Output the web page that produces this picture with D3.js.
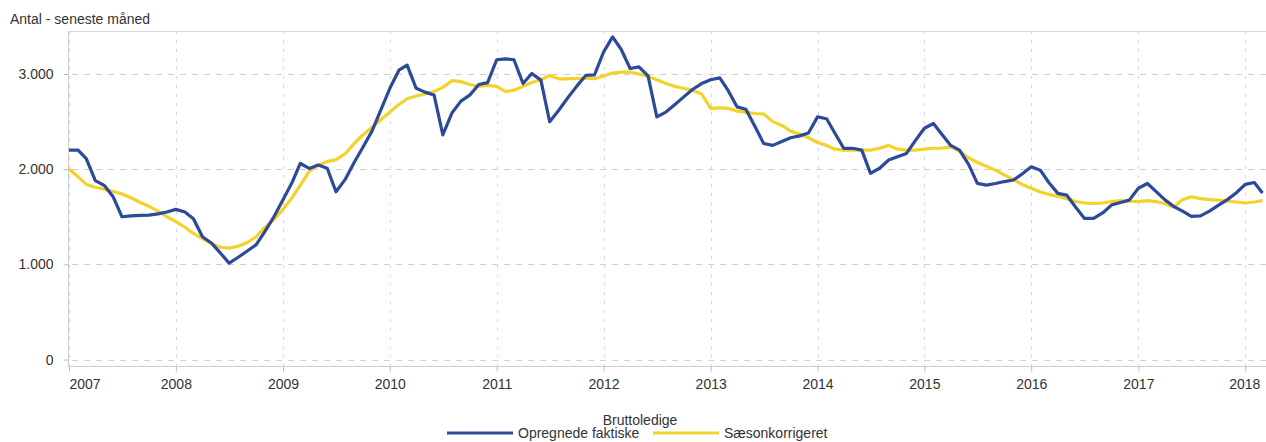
<!DOCTYPE html>
<html>
<head>
<meta charset="utf-8">
<script src="https://cdn.jsdelivr.net/npm/d3@7"></script>
<style>
  body { margin: 0; background: #fff; }
  text { font-family: "Liberation Sans", Arial, sans-serif; fill: #333; }
</style>
</head>
<body>
<svg id="chart"></svg>
<script>
// monthly values, Jan 2007 - Mar 2018
const startYear = 2007;
const faktiske = [
  2200, 2200, 2110, 1880, 1830, 1710, 1500, 1510, 1515, 1518, 1530, 1550,
  1578, 1550, 1480, 1290, 1225, 1120, 1013, 1075, 1140, 1205, 1350, 1500,
  1680, 1860, 2060, 2008, 2043, 2010, 1763, 1890, 2070, 2230, 2400, 2620,
  2850, 3040, 3093, 2850, 2810, 2780, 2360, 2590, 2715, 2778, 2890, 2910,
  3150, 3160, 3150, 2900, 3006, 2936, 2498, 2620, 2750, 2870, 2985, 2990,
  3230, 3390, 3260, 3058, 3075, 2980, 2550, 2600, 2680, 2760, 2840, 2900,
  2940, 2960, 2830, 2655, 2630, 2450, 2270, 2250, 2290, 2330, 2350, 2380,
  2550, 2530, 2380, 2218, 2220, 2200, 1956, 2010, 2096, 2130, 2166, 2300,
  2430, 2480, 2370, 2250, 2200, 2050, 1851, 1833, 1850, 1870, 1886, 1950,
  2025, 1990, 1860, 1746, 1728, 1600, 1483, 1483, 1540, 1623, 1650, 1675,
  1800, 1850, 1770, 1680, 1610, 1560, 1505, 1510, 1560, 1620, 1680, 1750,
  1840, 1860, 1750
];
const saeson = [
  2000, 1920, 1840, 1810, 1790, 1765, 1740, 1700, 1650, 1610, 1560, 1500,
  1450, 1390, 1325, 1270, 1220, 1180, 1170, 1190, 1230, 1290, 1390, 1470,
  1580, 1700, 1830, 1980, 2040, 2080, 2100, 2160, 2270, 2360, 2440, 2520,
  2600, 2680, 2740, 2770, 2790, 2815, 2860, 2930, 2920, 2890, 2870, 2880,
  2870, 2815, 2830, 2870, 2910, 2940, 2985, 2950, 2950, 2955, 2955, 2950,
  2980, 3010, 3020, 3020, 3000, 2975, 2940, 2900, 2870, 2850, 2830, 2790,
  2640, 2645, 2640, 2610, 2600, 2585, 2580, 2500, 2460, 2400, 2370, 2330,
  2280, 2250, 2210, 2200, 2200, 2200, 2200, 2220, 2250, 2210, 2200, 2200,
  2210, 2220, 2220, 2235, 2190, 2120, 2070, 2030, 1990, 1940, 1890, 1840,
  1800, 1760, 1735, 1715, 1690, 1660, 1645, 1640, 1645, 1660, 1670, 1665,
  1660, 1670, 1660, 1640, 1600, 1680, 1710, 1690, 1680, 1675, 1665, 1655,
  1645, 1655, 1670
];
const yTicks = [0, 1000, 2000, 3000];
const xYears = [2007, 2008, 2009, 2010, 2011, 2012, 2013, 2014, 2015, 2016, 2017, 2018];
const seriesNames = ["Opregnede faktiske", "Sæsonkorrigeret"];
const seriesColors = ["#2c4a98", "#f4d22c"];

const W = 1266, H = 442;
const plot = { left: 68, right: 1266, top: 31, bottom: 366 };

const svg = d3.select("#chart").attr("width", W).attr("height", H);

const dates = faktiske.map((d, i) => new Date(startYear, i, 1));

const x = d3.scaleTime()
  .domain([new Date(2007, 0, 1), new Date(2018, 2, 13)])
  .range([69, plot.right]);

const y = d3.scaleLinear()
  .domain([-68, 3452])
  .range([plot.bottom, plot.top]);

const fmt = d3.format(",");
const daNum = v => fmt(v).replace(/,/g, ".");

// grid
svg.append("g")
  .selectAll("line")
  .data(yTicks)
  .join("line")
  .attr("x1", plot.left + 4).attr("x2", plot.right)
  .attr("y1", d => Math.round(y(d)) + 0.5).attr("y2", d => Math.round(y(d)) + 0.5)
  .attr("stroke", "#cfcfcf").attr("stroke-dasharray", "6,6");

svg.append("g")
  .selectAll("line")
  .data(xYears)
  .join("line")
  .attr("x1", d => Math.round(x(new Date(d, 0, 1))) + 0.5)
  .attr("x2", d => Math.round(x(new Date(d, 0, 1))) + 0.5)
  .attr("y1", plot.top).attr("y2", plot.bottom)
  .attr("stroke", "#d6d6d6").attr("stroke-dasharray", "3,6");

// frame
svg.append("line")
  .attr("x1", plot.left).attr("x2", plot.right)
  .attr("y1", plot.top + 0.5).attr("y2", plot.top + 0.5)
  .attr("stroke", "#d9d9d9");

// y axis
const yAxis = d3.axisLeft(y)
  .tickValues(yTicks)
  .tickSize(5)
  .tickPadding(10)
  .tickFormat(daNum);

const gy = svg.append("g")
  .attr("transform", `translate(${plot.left + 0.5},0)`)
  .call(yAxis);
gy.select(".domain").attr("stroke", "#d0d0d0").attr("d", `M0,${plot.top}V${plot.bottom}`);
gy.selectAll(".tick line").attr("stroke", "#bbb");
gy.selectAll(".tick text").attr("font-size", 14).attr("fill", "#444");

// x axis
const xAxis = d3.axisBottom(x)
  .tickValues(xYears.map(d => new Date(d, 0, 1)))
  .tickSize(5)
  .tickPadding(8)
  .tickFormat(d3.timeFormat("%Y"));

const gx = svg.append("g")
  .attr("transform", `translate(0,${plot.bottom + 0.5})`)
  .call(xAxis);
gx.select(".domain").attr("stroke", "#d0d0d0").attr("d", `M${plot.left},0H${plot.right}`);
gx.selectAll(".tick line").attr("stroke", "#bbb");
gx.selectAll(".tick text").attr("font-size", 14).attr("fill", "#444");
gx.selectAll(".tick text").filter((d, i) => i === 0)
  .attr("text-anchor", "start").attr("dx", 0);
gx.selectAll(".tick text").filter((d, i) => i === xYears.length - 1)
  .attr("dx", -1);

// lines
const line = d3.line()
  .x((d, i) => x(dates[i]))
  .y(d => y(d));

svg.append("defs").append("clipPath").attr("id", "clip")
  .append("rect")
  .attr("x", plot.left).attr("y", plot.top)
  .attr("width", plot.right - plot.left).attr("height", plot.bottom - plot.top);

const lines = svg.append("g").attr("clip-path", "url(#clip)");

lines.append("path")
  .datum(saeson)
  .attr("fill", "none")
  .attr("stroke", seriesColors[1])
  .attr("stroke-width", 3.2)
  .attr("stroke-linejoin", "round")
  .attr("d", line);

lines.append("path")
  .datum(faktiske)
  .attr("fill", "none")
  .attr("stroke", seriesColors[0])
  .attr("stroke-width", 3.2)
  .attr("stroke-linejoin", "round")
  .attr("d", line);

// titles
svg.append("text")
  .attr("x", 10).attr("y", 24)
  .attr("font-size", 14)
  .attr("fill", "#333")
  .text("Antal - seneste måned");

svg.append("text")
  .attr("x", 640).attr("y", 425)
  .attr("text-anchor", "middle")
  .attr("font-size", 14)
  .attr("fill", "#444")
  .text("Bruttoledige");

// legend
const legendItems = [
  { name: seriesNames[0], color: seriesColors[0], x: 447 },
  { name: seriesNames[1], color: seriesColors[1], x: 653 }
];
const lg = svg.append("g").selectAll("g")
  .data(legendItems)
  .join("g")
  .attr("transform", d => `translate(${d.x},433)`);

lg.append("line")
  .attr("x1", 0).attr("x2", 66)
  .attr("stroke", d => d.color)
  .attr("stroke-width", 3.2);

lg.append("text")
  .attr("x", 71).attr("y", 5)
  .attr("font-size", 14)
  .attr("fill", "#444")
  .text(d => d.name);
</script>
</body>
</html>
